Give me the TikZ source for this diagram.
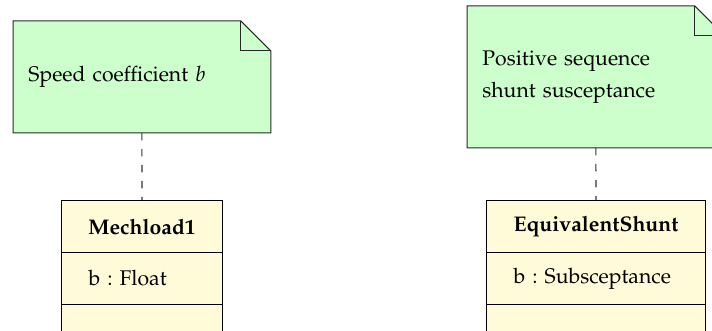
\documentclass[tikz,border=0pt]{standalone}
\usepackage[T1]{fontenc}
\usepackage{mathpazo}
\definecolor{notegreen}{RGB}{204,255,204}
\definecolor{classyellow}{RGB}{255,250,215}
\definecolor{edgegray}{RGB}{40,40,40}
\tikzset{
  notebox/.style={rectangle, inner sep=0pt, inner xsep=7.5pt, align=left, anchor=north west, font=\fontsize{10.6}{16}\selectfont\frenchspacing},
  noteline/.style={draw=edgegray, line width=0.5pt, fill=notegreen},
  classpart/.style={rectangle, draw=black, line width=0.5pt, fill=classyellow, inner sep=0pt, anchor=north west, minimum height=26pt, font=\fontsize{10.6}{12}\selectfont\frenchspacing},
  classattr/.style={classpart, inner xsep=13.5pt, align=left},
  link/.style={draw=black!80, line width=0.55pt, dash pattern=on 3.8pt off 4.2pt},
}
\begin{document}
\begin{tikzpicture}[x=0.5pt,y=-0.5pt]
\useasboundingbox (0,0) rectangle (712,331);
\clip (0,0) rectangle (712,331);
% left note
\node[notebox, text width=113.5pt, minimum height=55.5pt] (n1) at (13,21) {\phantom{S}};
\draw[noteline] (n1.north west) -- ([xshift=-15pt]n1.north east) -- ([yshift=-15pt]n1.north east) -- (n1.south east) -- (n1.south west) -- cycle;
\draw[draw=edgegray, line width=0.5pt] ([xshift=-15pt]n1.north east) -- ([xshift=-15pt,yshift=-15pt]n1.north east) -- ([yshift=-15pt]n1.north east);
\node[notebox, text width=113.5pt, minimum height=55.5pt] (t1) at (13,21) {Speed coefficient $b$};
% right note
\node[notebox, text width=113.5pt, minimum height=70.5pt] (n2) at (467,6) {\phantom{S}};
\draw[noteline] (n2.north west) -- ([xshift=-15pt]n2.north east) -- ([yshift=-15pt]n2.north east) -- (n2.south east) -- (n2.south west) -- cycle;
\draw[draw=edgegray, line width=0.5pt] ([xshift=-15pt]n2.north east) -- ([xshift=-15pt,yshift=-15pt]n2.north east) -- ([yshift=-15pt]n2.north east);
\node[notebox, text width=113.5pt, minimum height=70.5pt] (t2) at (467,6) {Positive sequence\\shunt susceptance};
% left class
\node[classpart, minimum width=80.5pt, font=\fontsize{10.6}{12}\selectfont\bfseries] (c1) at (61,200) {Mechload1};
\node[classattr, minimum width=80.5pt, text width=53.5pt] (c1a) at (61,252) {b : Float};
\node[classpart, minimum width=80.5pt, minimum height=20pt] (c1o) at (61,304) {};
% right class
\node[classpart, minimum width=109.5pt, font=\fontsize{10.6}{12}\selectfont\bfseries] (c2) at (486,200) {EquivalentShunt};
\node[classattr, minimum width=109.5pt, text width=82.5pt] (c2a) at (486,252) {b : Subsceptance};
\node[classpart, minimum width=109.5pt, minimum height=20pt] (c2o) at (486,304) {};
% connectors
\draw[link] (n1.south) -- (c1.north);
\draw[link] (n2.south) -- (c2.north);
\end{tikzpicture}
\end{document}
